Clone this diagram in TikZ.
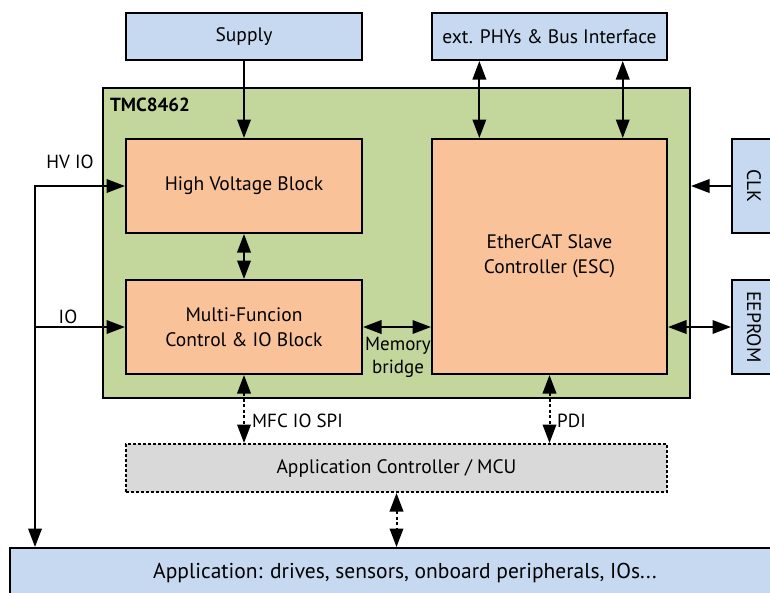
\documentclass[tikz,border=0pt]{standalone}
\usepackage{fontspec}
\setmainfont{PT Sans}
\usetikzlibrary{arrows.meta,calc}
\definecolor{bblue}{HTML}{C6D9F1}
\definecolor{bgreen}{HTML}{C3D69B}
\definecolor{borange}{HTML}{F9C299}
\definecolor{bgray}{HTML}{D9D9D9}
\tikzset{
  box/.style={draw=black, line width=2pt, inner sep=0pt, font=\fontsize{19.5}{25}\selectfont, align=center},
  tip/.tip={Triangle[length=18.5pt,width=13.5pt]},
  conn/.style={line width=2pt, tip-tip},
  conn1/.style={line width=2pt, -tip},
  dconn/.style={conn, dash pattern=on 3pt off 2.5pt},
  lbl/.style={font=\fontsize{19}{23}\selectfont, inner sep=0pt}
}
\begin{document}
\begin{tikzpicture}[x=1pt,y=-1pt]
\useasboundingbox (0,0) rectangle (770,592);
\clip (0,0) rectangle (770,592);
\node[box, fill=bblue, minimum width=236pt, minimum height=47pt] (supply) at (244,36.5) {Supply};
\node[box, fill=bblue, minimum width=235pt, minimum height=47pt] (phy) at (549.5,36.5) {ext. PHYs \& Bus Interface};
\node[box, fill=bgreen, minimum width=587pt, minimum height=310pt] (tmc) at (396.5,243) {};
\node[anchor=west, font=\bfseries\fontsize{19}{23}\selectfont, inner sep=0pt] (tmclbl) at (110,105) {TMC8462};
\node[box, fill=borange, minimum width=236pt, minimum height=94pt] (hv) at (244,186) {High Voltage Block};
\node[box, fill=borange, minimum width=236pt, minimum height=94pt] (mfc) at (244,327) {Multi-Funcion\\Control \& IO Block};
\node[box, fill=borange, minimum width=235pt, minimum height=235pt] (esc) at (549.5,256.5) {EtherCAT Slave\\Controller (ESC)};
\node[box, fill=bblue, minimum width=60pt, minimum height=94pt] (clk) at (762,186) {};
\node[lbl, rotate=-90, font=\fontsize{19.5}{24}\selectfont] (clktxt) at (754,186) {CLK};
\node[box, fill=bblue, minimum width=60pt, minimum height=94pt] (eeprom) at (762,327) {};
\node[lbl, rotate=-90, font=\fontsize{19.5}{24}\selectfont] (eetxt) at (754,327) {EEPROM};
\node[box, fill=bgray, dash pattern=on 3pt off 2pt, minimum width=541pt, minimum height=48pt] (mcu) at (396.5,468) {Application Controller / MCU};
\node[box, fill=bblue, minimum width=790pt, minimum height=50pt, font=\fontsize{21.5}{25}\selectfont] (appl) at (405,573) {Application: drives, sensors, onboard peripherals, IOs...};
\coordinate (busx) at (35,0);
% connectors
\draw[conn1] (supply.south) -- (hv.north);
\draw[conn] ($(phy.south west)!0.204!(phy.south east)$) -- ($(esc.north west)!0.204!(esc.north east)$);
\draw[conn] ($(phy.south west)!0.809!(phy.south east)$) -- ($(esc.north west)!0.809!(esc.north east)$);
\draw[conn] (hv.west) -| (appl.north -| busx);
\draw[conn1] (mfc.west -| busx) -- (mfc.west);
\draw[conn] (hv.south) -- (mfc.north);
\draw[conn] (mfc.east) -- (mfc.east -| esc.west);
\draw[conn1] (clk.west) -- (clk.west -| tmc.east);
\draw[conn] (eeprom.west -| esc.east) -- (eeprom.west);
\draw[dconn] (mfc.south) -- (mfc.south |- mcu.north);
\draw[dconn] (esc.south) -- (esc.south |- mcu.north);
\draw[dconn] (mcu.south) -- (mcu.south |- appl.north);
% labels
\node[lbl] (hvio) at (70,162) {HV IO};
\node[lbl] (io) at (68,317) {IO};
\node[lbl, align=center] (mem) at (398,357) {Memory\\bridge};
\node[lbl, anchor=west] (spi) at (252,421) {MFC IO SPI};
\node[lbl, anchor=west] (pdi) at (557,421) {PDI};
\end{tikzpicture}
\end{document}
